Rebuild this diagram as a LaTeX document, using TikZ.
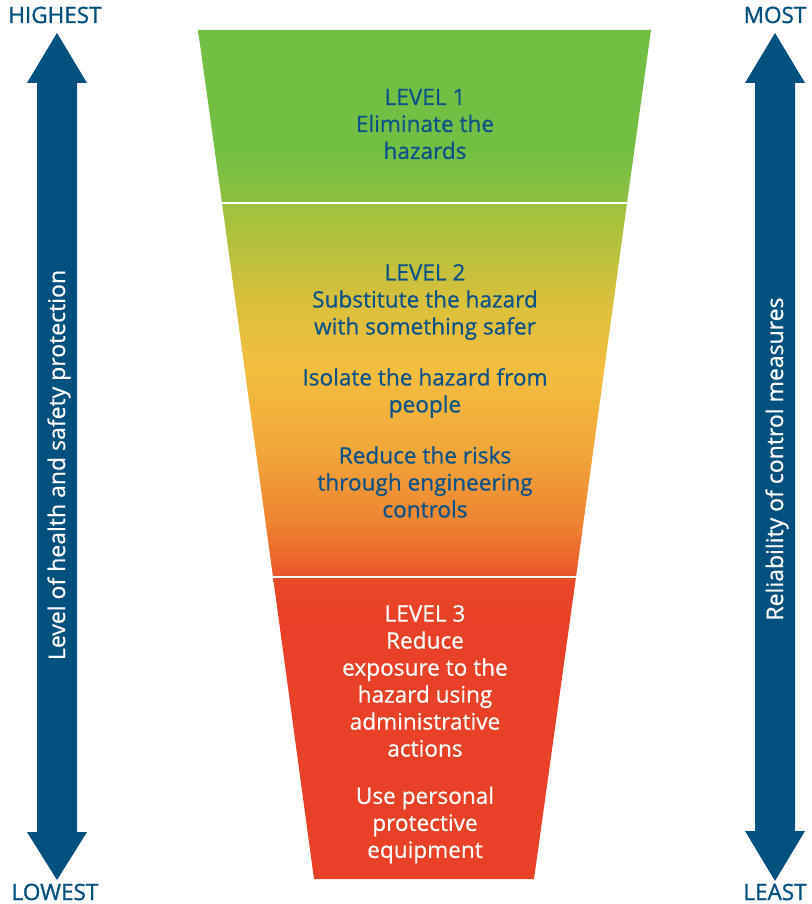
\documentclass[tikz,border=0pt]{standalone}
\usepackage{fontspec}
\setmainfont{Open Sans}
\newfontfamily\medfont{Open Sans}[FakeBold=0.6]
\newfontfamily\semifont{Open Sans}[FakeBold=1.2]
\definecolor{navy}{HTML}{02507E}
\definecolor{txtblue}{HTML}{0B5288}
\definecolor{gA}{HTML}{72BF44}
\definecolor{gB}{HTML}{8FBF40}
\definecolor{yA}{HTML}{9EC23F}
\definecolor{yB}{HTML}{B8C13D}
\definecolor{yC}{HTML}{D9C03C}
\definecolor{yD}{HTML}{F3BE3E}
\definecolor{yE}{HTML}{F1A73A}
\definecolor{yF}{HTML}{EE8532}
\definecolor{yG}{HTML}{EB652C}
\definecolor{yH}{HTML}{E9522A}
\definecolor{rA}{HTML}{E94A29}
\definecolor{rB}{HTML}{E84127}
\pgfdeclareverticalshading{lvone}{100bp}{color(0bp)=(gB); color(25bp)=(gB); color(40bp)=(gA); color(100bp)=(gA)}
\pgfdeclareverticalshading{lvtwo}{100bp}{color(0bp)=(yH); color(25bp)=(yH); color(27.3bp)=(yG); color(32.6bp)=(yF); color(42bp)=(yE); color(52.7bp)=(yD); color(62bp)=(yC); color(68.7bp)=(yB); color(75bp)=(yA); color(100bp)=(yA)}
\pgfdeclareverticalshading{lvthree}{100bp}{color(0bp)=(rB); color(25bp)=(rB); color(68bp)=(rB); color(75bp)=(rA); color(100bp)=(rA)}
\tikzset{
  lvtext/.style={align=center, inner sep=0pt, font=\medfont\fontsize{22.6}{27}\selectfont},
  bluetext/.style={lvtext, text=txtblue},
  whitetext/.style={lvtext, text=white},
  endlabel/.style={anchor=base, inner sep=0pt, text=navy, font=\semifont\fontsize{22.5}{26}\selectfont},
  sidelabel/.style={rotate=90, inner sep=0pt, text=white, font=\medfont\fontsize{23}{27}\selectfont},
  sep/.style={draw=white, line width=2pt}
}
\begin{document}
\begin{tikzpicture}[x=1pt,y=-1pt]
\useasboundingbox (0,0) rectangle (811,904);
% funnel
\path[shading=lvone] (198,30) -- (651,30) -- (627,203) -- (222,203) -- cycle;
\path[shading=lvtwo] (222,203) -- (627,203) -- (576,577) -- (273,577) -- cycle;
\path[shading=lvthree] (273,577) -- (576,577) -- (534,879) -- (314,879) -- cycle;
\draw[sep] (215,203) -- (635,203);
\draw[sep] (265,577) -- (585,577);
% side arrows
\fill[navy] (57,33) -- (87,83) -- (77,83) -- (77,832) -- (87,832) -- (57,880) -- (27,832) -- (37,832) -- (37,83) -- (27,83) -- cycle;
\fill[navy] (775,33) -- (805,83) -- (795,83) -- (795,831) -- (805,831) -- (775,881) -- (745,831) -- (755,831) -- (755,83) -- (745,83) -- cycle;
% end labels
\node[endlabel] (highest) at (55,23) {HIGHEST};
\node[endlabel] (lowest) at (55,900) {LOWEST};
\node[endlabel] (most) at (775,23) {MOST};
\node[endlabel] (least) at (775,900) {LEAST};
% side labels
\node[sidelabel] (leftlab) at (59,465) {Level of health and safety protection};
\node[sidelabel] (rightlab) at (777,459) {Reliability of control measures};
% level texts
\node[bluetext] (l1) at (425,124) {LEVEL 1\\Eliminate the\\hazards};
\node[bluetext] (l2a) at (425,302) {LEVEL 2\\Substitute the hazard\\with something safer};
\node[bluetext] (l2b) at (425,393) {Isolate the hazard from\\people};
\node[bluetext] (l2c) at (425,482) {Reduce the risks\\through engineering\\controls};
\node[whitetext] (l3a) at (425,681) {LEVEL 3\\Reduce\\exposure to the\\hazard using\\administrative\\actions};
\node[whitetext] (l3b) at (425,825) {Use personal\\protective\\equipment};
\end{tikzpicture}
\end{document}
